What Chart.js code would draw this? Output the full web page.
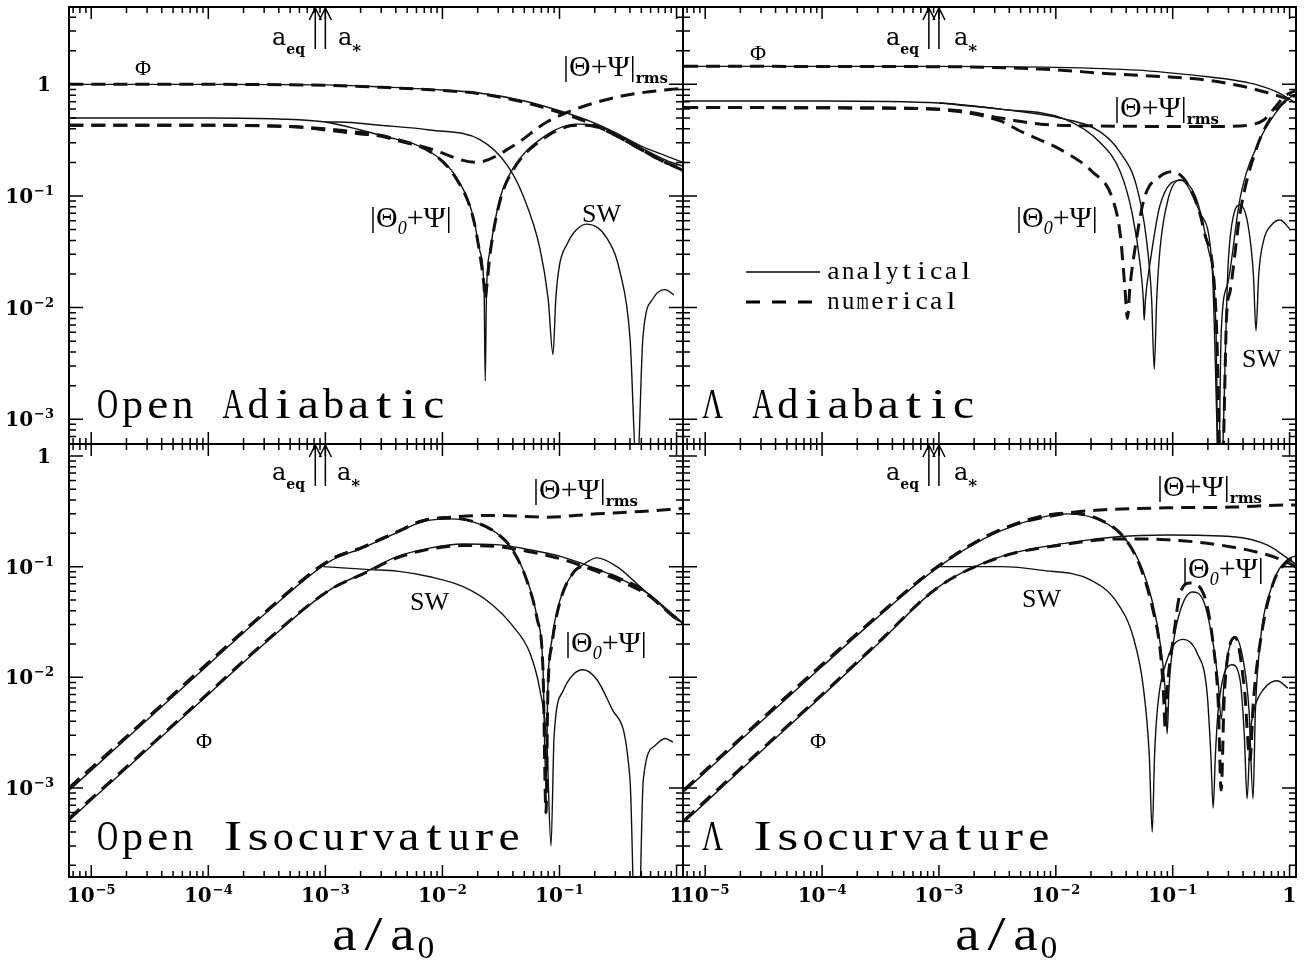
<!DOCTYPE html>
<html>
<head>
<meta charset="UTF-8">
<title>Potentials and temperature: adiabatic and isocurvature</title>
<script src="https://cdn.jsdelivr.net/npm/chart.js"></script>
<style>
  body { margin: 0; background: #fff; }
  #wrap { position: relative; width: 1304px; height: 961px; }
  #wrap canvas { position: absolute; left: 0; top: 0; }
</style>
</head>
<body>
<div id="wrap">
  <canvas id="tl" width="1304" height="961"></canvas>
  <canvas id="tr" width="1304" height="961"></canvas>
  <canvas id="bl" width="1304" height="961"></canvas>
  <canvas id="br" width="1304" height="961"></canvas>
</div>
<script>
// axis ranges, log10
const xRange = [-5.19, 0.055];
const yTopRange = [-3.188, 0.693];
const yBottomRange = [-3.804, 0.108];
const aEq = 8.2e-4, aStar = 1e-3;

// ---- Open Adiabatic ----
const tlPhiA = [[6.5e-6,1.0],[1e-4,1.0],[1e-3,0.99],[3e-3,0.95],[0.01,0.89],[0.02,0.84],[0.05,0.71],[0.1,0.58],[0.2,0.45],[0.3,0.37],[0.5,0.28],[0.8,0.23],[1.13,0.2]];
const tlPhiN = [[6.5e-6,1.0],[1e-4,1.0],[1e-3,0.98],[3e-3,0.94],[0.01,0.88],[0.02,0.83],[0.05,0.69],[0.1,0.56],[0.2,0.43],[0.3,0.35],[0.5,0.26],[0.8,0.2],[1.13,0.17]];
const tlTh0A = [[6.5e-6,0.5],[1e-4,0.5],[4e-4,0.49],[1e-3,0.46],[2e-3,0.39],[2.93e-3,0.35],[7.8e-3,0.25],[0.0133,0.144],[0.0182,0.067],[0.0209,0.032],[0.0227,0.014],[0.0232,0.0022],[0.0238,0.014],[0.0255,0.032],[0.031,0.095],[0.040,0.176],[0.068,0.32],[0.141,0.44],[0.2,0.43],[0.3,0.36],[0.5,0.27],[0.8,0.21],[1.13,0.185]];
const tlTh0N = [[6.5e-6,0.43],[1e-4,0.43],[6e-4,0.415],[1e-3,0.39],[2e-3,0.36],[2.93e-3,0.345],[4.3e-3,0.31],[7.8e-3,0.25],[0.0133,0.14],[0.0182,0.065],[0.0209,0.03],[0.0225,0.017],[0.0232,0.012],[0.024,0.016],[0.0255,0.03],[0.031,0.09],[0.040,0.17],[0.068,0.31],[0.141,0.43],[0.2,0.42],[0.3,0.35],[0.5,0.26],[0.8,0.2],[1.13,0.175]];
const tlRmsN = [[6.5e-6,0.43],[1e-4,0.43],[6e-4,0.415],[1e-3,0.40],[2e-3,0.37],[2.93e-3,0.35],[7.8e-3,0.265],[0.0195,0.20],[0.040,0.28],[0.078,0.46],[0.15,0.62],[0.35,0.79],[0.88,0.9],[1.13,0.92]];
const tlSwA = [[1e-3,0.46],[1.33e-3,0.46],[2.93e-3,0.43],[7.8e-3,0.39],[0.0209,0.32],[0.0356,0.19],[0.049,0.10],[0.068,0.034],[0.080,0.012],[0.088,0.0038],[0.093,0.012],[0.1,0.024],[0.116,0.037],[0.14,0.05],[0.171,0.056],[0.254,0.042],[0.328,0.021],[0.40,0.0054],[0.459,0.0003],[0.516,0.0054],[0.628,0.012],[0.796,0.0145],[0.95,0.013]];

// ---- Lambda Adiabatic ----
const trPhiA = [[6.6e-6,1.45],[1e-3,1.45],[0.01,1.42],[0.05,1.34],[0.1,1.26],[0.2,1.17],[0.3,1.11],[0.45,1.03],[0.6,0.95],[0.75,0.87],[0.9,0.79],[1.13,0.68]];
const trPhiN = [[6.6e-6,1.45],[1e-3,1.44],[7.4e-3,1.37],[0.031,1.24],[0.1,1.16],[0.172,1.11],[0.377,0.97],[0.654,0.84],[0.968,0.74],[1.13,0.70]];
const trTh0A = [[6.6e-6,0.71],[1e-4,0.71],[1e-3,0.68],[3.36e-3,0.60],[0.0118,0.49],[0.024,0.30],[0.0356,0.165],[0.045,0.07],[0.0528,0.024],[0.056,0.012],[0.057,0.0077],[0.0585,0.012],[0.0643,0.026],[0.078,0.083],[0.116,0.138],[0.159,0.095],[0.201,0.034],[0.235,0.006],[0.245,0.0002],[0.26,0.006],[0.298,0.017],[0.377,0.095],[0.558,0.32],[0.765,0.56],[0.968,0.74],[1.13,0.82]];
const trTh0N = [[6.6e-6,0.62],[5e-4,0.61],[1.5e-3,0.57],[3.36e-3,0.47],[4.98e-3,0.38],[0.011,0.26],[0.0205,0.165],[0.0305,0.095],[0.0356,0.045],[0.039,0.015],[0.041,0.008],[0.043,0.015],[0.0488,0.04],[0.057,0.095],[0.078,0.15],[0.099,0.165],[0.1356,0.125],[0.186,0.048],[0.235,0.0087],[0.262,0.0002],[0.29,0.009],[0.31,0.014],[0.377,0.07],[0.516,0.26],[0.707,0.52],[0.968,0.74],[1.13,0.80]];
const trRmsN = [[6.6e-6,0.62],[5e-4,0.61],[1.5e-3,0.58],[3.36e-3,0.50],[7.4e-3,0.44],[0.02,0.425],[0.1,0.42],[0.25,0.42],[0.44,0.43],[0.6,0.48],[0.75,0.62],[0.9,0.78],[1.13,0.88]];
const trSwA = [[1e-3,0.68],[3.36e-3,0.60],[0.0118,0.49],[0.024,0.375],[0.0356,0.245],[0.0488,0.125],[0.0594,0.042],[0.066,0.012],[0.0695,0.0028],[0.073,0.012],[0.078,0.034],[0.0916,0.095],[0.116,0.14],[0.172,0.07],[0.217,0.024],[0.255,0.0002],[0.298,0.024],[0.335,0.07],[0.377,0.083],[0.441,0.055],[0.49,0.02],[0.516,0.0062],[0.545,0.02],[0.6,0.04],[0.7,0.055],[0.828,0.061],[1.0,0.051]];

// ---- Open Isocurvature ----
const blTh0A = [[6.46e-6,9.5e-4],[2e-5,2.8e-3],[1e-4,0.013],[3e-4,0.037],[1.1e-3,0.112],[2.1e-3,0.148],[4.1e-3,0.203],[6.8e-3,0.255],[0.0116,0.27],[0.0182,0.254],[0.0292,0.2],[0.040,0.14],[0.0528,0.076],[0.0643,0.035],[0.0722,0.0124],[0.0767,0.001],[0.0795,0.008],[0.0863,0.022],[0.101,0.05],[0.13,0.087],[0.159,0.104],[0.209,0.12],[0.31,0.1],[0.487,0.066],[0.765,0.043],[0.93,0.035],[1.13,0.031]];
const blTh0N = [[6.46e-6,1.0e-3],[2e-5,2.9e-3],[1e-4,0.0135],[3e-4,0.038],[1.1e-3,0.115],[2.1e-3,0.15],[4.1e-3,0.206],[6.8e-3,0.26],[0.0116,0.275],[0.0182,0.256],[0.0292,0.2],[0.040,0.14],[0.0528,0.074],[0.0643,0.034],[0.0722,0.012],[0.0767,0.0006],[0.0795,0.007],[0.0863,0.02],[0.101,0.048],[0.13,0.087],[0.159,0.1],[0.209,0.094],[0.31,0.08],[0.487,0.064],[0.765,0.043],[0.93,0.036],[1.13,0.032]];
const blRmsN = [[6.46e-6,1.0e-3],[2e-5,2.9e-3],[1e-4,0.0135],[3e-4,0.038],[1.1e-3,0.115],[2.1e-3,0.15],[4.1e-3,0.206],[6.8e-3,0.26],[0.0116,0.28],[0.0292,0.29],[0.0767,0.28],[0.209,0.30],[0.5,0.315],[1.13,0.335]];
const blPhiA = [[6.46e-6,5.1e-4],[2e-5,1.5e-3],[1e-4,7.0e-3],[3e-4,0.02],[1.1e-3,0.062],[2.1e-3,0.087],[4.1e-3,0.123],[7.8e-3,0.147],[0.015,0.16],[0.0292,0.158],[0.056,0.142],[0.107,0.122],[0.159,0.106],[0.286,0.083],[0.559,0.058],[0.93,0.037],[1.13,0.031]];
const blPhiN = [[6.46e-6,5.3e-4],[2e-5,1.55e-3],[1e-4,7.2e-3],[3e-4,0.0205],[1.1e-3,0.062],[2.1e-3,0.086],[4.1e-3,0.12],[7.8e-3,0.144],[0.015,0.155],[0.0292,0.152],[0.056,0.136],[0.107,0.116],[0.159,0.101],[0.286,0.079],[0.559,0.056],[0.93,0.036],[1.13,0.031]];
const blSwA = [[9.6e-4,0.1],[2.41e-3,0.094],[4.1e-3,0.091],[7.8e-3,0.081],[0.015,0.066],[0.0255,0.047],[0.040,0.029],[0.056,0.0165],[0.068,0.0077],[0.078,0.0025],[0.0846,0.0003],[0.090,0.003],[0.107,0.0075],[0.13,0.0105],[0.159,0.0117],[0.209,0.0095],[0.286,0.005],[0.40,0.0012],[0.459,0.00001],[0.52,0.0012],[0.65,0.0024],[0.796,0.0028],[0.93,0.0026]];

// ---- Lambda Isocurvature ----
const brTh0A = [[6.6e-6,9.3e-4],[2e-5,2.7e-3],[1e-4,0.0125],[3e-4,0.035],[1e-3,0.1],[3.37e-3,0.21],[0.0126,0.30],[0.024,0.262],[0.0379,0.186],[0.0528,0.105],[0.068,0.045],[0.078,0.0205],[0.086,0.008],[0.0897,0.0031],[0.093,0.008],[0.101,0.02],[0.116,0.04],[0.147,0.059],[0.182,0.05],[0.222,0.02],[0.245,0.009],[0.26,0.0042],[0.275,0.009],[0.292,0.015],[0.342,0.023],[0.40,0.0145],[0.45,0.005],[0.487,0.0008],[0.51,0.005],[0.558,0.02],[0.721,0.071],[0.95,0.115],[1.13,0.125]];
const brTh0N = [[6.6e-6,9.6e-4],[2e-5,2.8e-3],[1e-4,0.013],[3e-4,0.036],[1e-3,0.102],[3.37e-3,0.215],[0.0126,0.305],[0.024,0.265],[0.0379,0.186],[0.0528,0.1],[0.068,0.04],[0.078,0.018],[0.083,0.008],[0.0863,0.0035],[0.09,0.008],[0.101,0.022],[0.116,0.058],[0.141,0.071],[0.182,0.058],[0.222,0.02],[0.245,0.006],[0.26,0.00096],[0.275,0.006],[0.292,0.014],[0.342,0.023],[0.41,0.008],[0.459,0.0018],[0.49,0.006],[0.558,0.02],[0.721,0.07],[0.95,0.11],[1.13,0.12]];
const brRmsN = [[6.6e-6,9.6e-4],[2e-5,2.8e-3],[1e-4,0.013],[3e-4,0.036],[1e-3,0.102],[3.37e-3,0.215],[0.0126,0.305],[0.024,0.325],[0.0897,0.34],[0.329,0.345],[0.879,0.36],[1.13,0.36]];
const brPhiA = [[6.6e-6,4.9e-4],[2e-5,1.45e-3],[1e-4,6.8e-3],[3e-4,0.02],[1e-3,0.066],[3.37e-3,0.123],[0.0126,0.164],[0.0336,0.186],[0.0897,0.193],[0.329,0.186],[0.641,0.157],[0.95,0.12],[1.13,0.105]];
const brPhiN = [[6.6e-6,5.1e-4],[2e-5,1.5e-3],[1e-4,7e-3],[3e-4,0.0205],[1e-3,0.066],[3.37e-3,0.122],[0.0126,0.16],[0.0336,0.178],[0.0897,0.175],[0.329,0.15],[0.641,0.128],[0.95,0.11],[1.13,0.1]];
const brSwA = [[1e-3,0.1],[3.37e-3,0.1],[7.4e-3,0.093],[0.0197,0.076],[0.0336,0.047],[0.046,0.023],[0.056,0.0082],[0.063,0.002],[0.0668,0.0004],[0.070,0.002],[0.0738,0.005],[0.0897,0.0145],[0.123,0.022],[0.162,0.0165],[0.197,0.0072],[0.212,0.002],[0.222,0.00066],[0.232,0.002],[0.245,0.005],[0.322,0.013],[0.377,0.0095],[0.41,0.003],[0.433,0.0008],[0.46,0.003],[0.5,0.0052],[0.6,0.0078],[0.78,0.0093],[0.968,0.008]];

const SERIF = '"Liberation Serif", "Times New Roman", serif';
const DSERIF = '"DejaVu Serif", serif';

function parts(ctx, x, y, list) {
  let cx = x;
  for (const p of list) {
    ctx.font = p[1];
    ctx.fillText(p[0], cx, y + (p[2] || 0));
    cx += ctx.measureText(p[0]).width;
  }
  return cx;
}
// typewriter-like text: serif glyphs stretched onto a fixed pitch
function typeText(ctx, text, x, y, pitch, size, vs) {
  ctx.save();
  ctx.font = size + 'px ' + SERIF;
  for (let i = 0; i < text.length; i++) {
    const ch = text[i];
    if (ch === ' ') continue;
    const w0 = ctx.measureText(ch).width;
    const hs = Math.min(1.35, (pitch * 0.84) / w0);
    const w = w0 * hs;
    ctx.save();
    ctx.translate(x + i * pitch + (pitch - w) / 2, y);
    ctx.scale(hs, vs);
    ctx.fillText(ch, 0, 0);
    ctx.restore();
  }
  ctx.restore();
}
const phi = (ctx, x, y) => parts(ctx, x, y, [['Φ', '22px ' + SERIF]]);
const sw = (ctx, x, y) => parts(ctx, x, y, [['SW', '26px ' + SERIF]]);
const th0 = (ctx, x, y) => parts(ctx, x, y, [['|Θ', '30px ' + SERIF], ['0', 'italic 18px ' + SERIF, 7], ['+Ψ|', '30px ' + SERIF]]);
const rms = (ctx, x, y) => parts(ctx, x, y, [['|Θ+Ψ|', '30px ' + SERIF], ['rms', 'bold 15px ' + DSERIF, 7]]);
function aLabels(ctx, xe, xs, y) {
  parts(ctx, xe, y, [['a', '24px ' + DSERIF], ['eq', 'bold 14px ' + DSERIF, 9]]);
  parts(ctx, xs, y, [['a', '24px ' + DSERIF], ['*', 'bold 17px ' + DSERIF, 11]]);
}
function powLabel(ctx, e, x, yc, align) {
  ctx.font = 'bold 20px ' + DSERIF;
  if (e === 0) {
    const w = ctx.measureText('1').width;
    ctx.fillText('1', align === 'right' ? x - w - 3 : x - w / 2, yc + 7);
    return;
  }
  const w1 = ctx.measureText('10').width;
  ctx.font = 'bold 13px ' + DSERIF;
  const sup = '\u2212' + (-e);
  const w2 = ctx.measureText(sup).width;
  const tot = w1 + w2 + 1;
  const left = align === 'right' ? x - tot : x - tot / 2;
  ctx.font = 'bold 20px ' + DSERIF;
  ctx.fillText('10', left, yc + 7);
  ctx.font = 'bold 13px ' + DSERIF;
  ctx.fillText(sup, left + w1 + 1, yc - 1);
}
const title = (ctx, t, x, y) => typeText(ctx, t, x, y, 25.1, 41, 1.05);
function axisTitle(ctx, x) {
  typeText(ctx, 'a/a', x, 950, 29, 48, 1.0);
  typeText(ctx, '0', x + 86, 958, 20, 32, 1.0);
}

const panels = [
  { id: 'tl', area: [69, 7, 683, 444], yr: yTopRange, yLabels: true, xLabels: false,
    sets: [[tlPhiA, 'a'], [tlPhiN, 'n'], [tlTh0A, 'a'], [tlTh0N, 'n'], [tlRmsN, 'n'], [tlSwA, 'a']],
    deco(ctx) {
      phi(ctx, 135, 75); aLabels(ctx, 272, 338, 45); rms(ctx, 563, 76);
      th0(ctx, 370, 227); sw(ctx, 582, 222);
      title(ctx, 'Open Adiabatic', 95, 418);
    } },
  { id: 'tr', area: [683, 7, 1296, 444], yr: yTopRange, yLabels: false, xLabels: false,
    sets: [[trPhiA, 'a'], [trPhiN, 'n'], [trTh0A, 'a'], [trTh0N, 'n'], [trRmsN, 'n'], [trSwA, 'a']],
    deco(ctx) {
      phi(ctx, 750, 60); aLabels(ctx, 886, 954, 45); rms(ctx, 1114, 117);
      th0(ctx, 1016, 227); sw(ctx, 1242, 367);
      ctx.lineWidth = 1.5; ctx.beginPath(); ctx.moveTo(746, 272); ctx.lineTo(820, 272); ctx.stroke();
      ctx.lineWidth = 3; ctx.setLineDash([14, 12]); ctx.beginPath(); ctx.moveTo(746, 302); ctx.lineTo(812, 302); ctx.stroke();
      ctx.setLineDash([]);
      typeText(ctx, 'analytical', 826, 279, 14.7, 24, 1.05);
      typeText(ctx, 'numerical', 826, 309, 14.7, 24, 1.05);
      title(ctx, 'Λ Adiabatic', 700, 418);
    } },
  { id: 'bl', area: [69, 444, 683, 877], yr: yBottomRange, yLabels: true, xLabels: true,
    sets: [[blPhiA, 'a'], [blPhiN, 'n'], [blTh0A, 'a'], [blTh0N, 'n'], [blRmsN, 'n'], [blSwA, 'a']],
    deco(ctx) {
      aLabels(ctx, 272, 337, 480); rms(ctx, 533, 499); sw(ctx, 410, 610);
      th0(ctx, 565, 652); phi(ctx, 196, 748);
      title(ctx, 'Open Isocurvature', 95, 850);
      axisTitle(ctx, 330);
    } },
  { id: 'br', area: [683, 444, 1296, 877], yr: yBottomRange, yLabels: false, xLabels: true,
    sets: [[brPhiA, 'a'], [brPhiN, 'n'], [brTh0A, 'a'], [brTh0N, 'n'], [brRmsN, 'n'], [brSwA, 'a']],
    deco(ctx) {
      aLabels(ctx, 886, 954, 480); rms(ctx, 1157, 496); th0(ctx, 1182, 578);
      sw(ctx, 1022, 607); phi(ctx, 810, 748);
      title(ctx, 'Λ Isocurvature', 700, 850);
      axisTitle(ctx, 953);
    } }
];

function framePlugin(p) {
  return {
    id: 'frame_' + p.id,
    afterDatasetsDraw(chart) {
      const ctx = chart.ctx, a = chart.chartArea;
      const xs = chart.scales.x, ys = chart.scales.y;
      ctx.save();
      ctx.strokeStyle = '#000';
      ctx.fillStyle = '#000';
      ctx.lineWidth = 1.5;
      ctx.beginPath();
      for (let e = -6; e <= 1; e++) {
        for (let k = 1; k < 10; k++) {
          const v = k * Math.pow(10, e);
          if (v > xs.min && v < xs.max) {
            const px = xs.getPixelForValue(v), L = k === 1 ? 12 : 6;
            ctx.moveTo(px, a.top); ctx.lineTo(px, a.top + L);
            ctx.moveTo(px, a.bottom); ctx.lineTo(px, a.bottom - L);
          }
          if (v > ys.min && v < ys.max) {
            const py = ys.getPixelForValue(v), L = k === 1 ? 14 : 7;
            ctx.moveTo(a.left, py); ctx.lineTo(a.left + L, py);
            ctx.moveTo(a.right, py); ctx.lineTo(a.right - L, py);
          }
        }
      }
      ctx.stroke();
      ctx.lineWidth = 2;
      ctx.strokeRect(a.left, a.top, a.right - a.left, a.bottom - a.top);

      // a_eq and a_* arrows
      ctx.lineWidth = 1.5;
      ctx.beginPath();
      for (const v of [aEq, aStar]) {
        const px = xs.getPixelForValue(v);
        ctx.moveTo(px, a.top + 1); ctx.lineTo(px, a.top + 42);
        ctx.moveTo(px - 6, a.top + 13); ctx.lineTo(px, a.top + 1); ctx.lineTo(px + 6, a.top + 13);
      }
      ctx.stroke();

      ctx.textBaseline = 'alphabetic';
      ctx.textAlign = 'left';
      if (p.yLabels) {
        for (let e = -4; e <= 0; e++) {
          const v = Math.pow(10, e);
          if (v >= ys.min && v <= ys.max) powLabel(ctx, e, 54, ys.getPixelForValue(v), 'right');
        }
      }
      if (p.xLabels) {
        for (let e = -5; e <= 0; e++) powLabel(ctx, e, xs.getPixelForValue(Math.pow(10, e)), 895, 'center');
      }
      p.deco(ctx);
      ctx.restore();
    }
  };
}

for (const p of panels) {
  const [l, t, r, b] = p.area;
  new Chart(document.getElementById(p.id), {
    type: 'line',
    data: {
      datasets: p.sets.map(([arr, kind]) => ({
        data: arr.map(([x, y]) => ({ x, y })),
        borderColor: '#111',
        borderWidth: kind === 'n' ? 3 : 1.4,
        borderDash: kind === 'n' ? [14, 8] : [],
        pointRadius: 0,
        fill: false,
        tension: 0,
        cubicInterpolationMode: 'monotone'
      }))
    },
    options: {
      responsive: false,
      animation: false,
      devicePixelRatio: 1,
      events: [],
      layout: { padding: { left: l, top: t, right: 1304 - r, bottom: 961 - b } },
      scales: {
        x: { type: 'logarithmic', min: Math.pow(10, xRange[0]), max: Math.pow(10, xRange[1]), display: false },
        y: { type: 'logarithmic', min: Math.pow(10, p.yr[0]), max: Math.pow(10, p.yr[1]), display: false }
      },
      plugins: { legend: { display: false }, tooltip: { enabled: false } }
    },
    plugins: [framePlugin(p)]
  });
}
</script>
</body>
</html>
